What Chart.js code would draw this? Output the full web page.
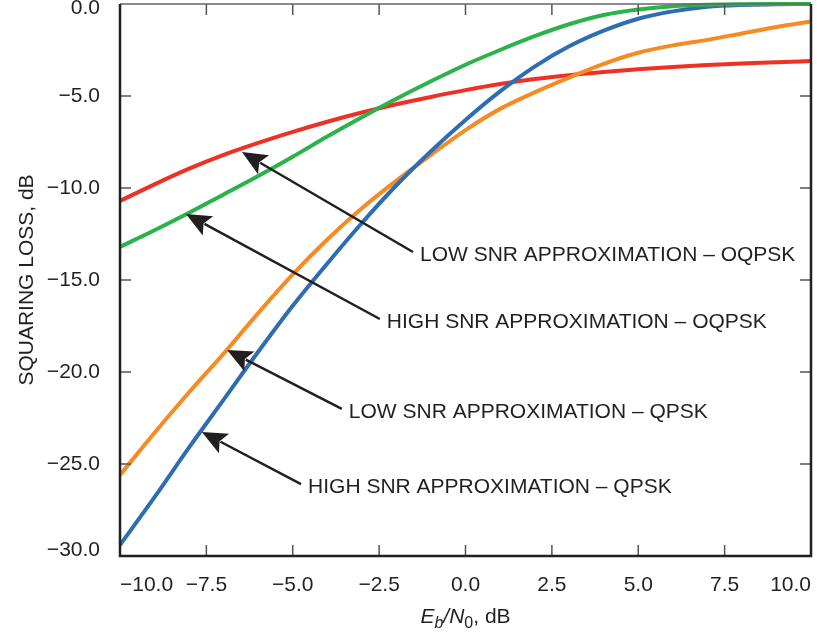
<!DOCTYPE html>
<html>
<head>
<meta charset="utf-8">
<script src="https://cdn.jsdelivr.net/npm/chart.js@4.4.0/dist/chart.umd.min.js"></script>
<style>
  html, body { margin: 0; padding: 0; background: #fff; }
  #wrap { width: 817px; height: 636px; }
</style>
</head>
<body>
<div id="wrap"><canvas id="chart" width="817" height="636"></canvas></div>
<script>
// Eb/N0 in dB
const ebn0 = [-10, -9, -8, -7, -6, -5, -4, -3, -2, -1, 0, 1, 2, 3, 4, 5, 6, 7, 8, 9, 10];

// squaring loss, dB
const highSnrOqpsk = [-13.2, -12.3, -11.35, -10.35, -9.35, -8.3, -7.2, -6.15, -5.15, -4.2, -3.3, -2.5, -1.75, -1.1, -0.6, -0.3, -0.12, -0.04, -0.01, 0, 0];
const highSnrQpsk  = [-29.4, -26.8, -24.1, -21.5, -18.9, -16.4, -14.1, -11.9, -9.85, -8.0, -6.3, -4.75, -3.4, -2.3, -1.45, -0.8, -0.4, -0.15, -0.05, -0.02, 0];
const lowSnrQpsk   = [-25.6, -23.3, -21.1, -19.0, -16.8, -14.7, -12.8, -11.1, -9.6, -8.2, -6.85, -5.7, -4.8, -4.0, -3.25, -2.65, -2.25, -1.95, -1.6, -1.25, -0.95];
const lowSnrOqpsk  = [-10.7, -9.8, -8.95, -8.2, -7.55, -6.95, -6.4, -5.9, -5.45, -5.05, -4.68, -4.35, -4.08, -3.87, -3.7, -3.55, -3.42, -3.32, -3.24, -3.16, -3.1];

// tick values
const xTickValues = [-10, -7.5, -5, -2.5, 0, 2.5, 5, 7.5, 10];
const yTickValues = [0, -5, -10, -15, -20, -25, -30];

// callouts: text, tip (x,y), tail (x,y) in data units
const noteTexts = [
  'LOW SNR APPROXIMATION \u2013 OQPSK',
  'HIGH SNR APPROXIMATION \u2013 OQPSK',
  'LOW SNR APPROXIMATION \u2013 QPSK',
  'HIGH SNR APPROXIMATION \u2013 QPSK'
];
const noteTips  = [[-6.47, -8.05], [-8.09, -11.41], [-6.90, -18.80], [-7.63, -23.26]];
const noteTails = [[-1.52, -13.48], [-2.48, -17.12], [-3.58, -22.01], [-4.76, -26.09]];

const FONT = "'Liberation Sans', Arial, Helvetica, sans-serif";
const INK = '#231f20';
Chart.defaults.font.family = FONT;
Chart.defaults.color = INK;

const fmt = v => (v < 0 ? '\u2212' : '') + Math.abs(v).toFixed(1);
const pts = ys => ebn0.map((x, i) => ({ x, y: ys[i] }));

// frame, inward ticks, callout arrows and the x-axis title
const decorations = {
  id: 'decorations',
  afterDraw(chart) {
    const { ctx, chartArea: a, scales: { x, y } } = chart;
    ctx.save();

    // inward ticks
    ctx.strokeStyle = '#555';
    ctx.lineWidth = 1.5;
    ctx.beginPath();
    x.ticks.forEach(t => {
      const px = x.getPixelForValue(t.value);
      if (px <= a.left + 2 || px >= a.right - 2) return;
      ctx.moveTo(px, a.bottom); ctx.lineTo(px, a.bottom - 11);
      ctx.moveTo(px, a.top);    ctx.lineTo(px, a.top + 11);
    });
    y.ticks.forEach(t => {
      const py = y.getPixelForValue(t.value);
      if (py <= a.top + 2 || py >= a.bottom - 2) return;
      ctx.moveTo(a.left, py);  ctx.lineTo(a.left + 11, py);
      ctx.moveTo(a.right, py); ctx.lineTo(a.right - 11, py);
    });
    ctx.stroke();

    // frame
    ctx.strokeStyle = '#666';
    ctx.lineWidth = 1.5;
    ctx.beginPath();
    ctx.moveTo(a.left, a.top); ctx.lineTo(a.right, a.top);
    ctx.stroke();
    ctx.strokeStyle = INK;
    ctx.lineWidth = 2.5;
    ctx.beginPath();
    ctx.moveTo(a.left, a.top); ctx.lineTo(a.left, a.bottom);
    ctx.lineTo(a.right, a.bottom); ctx.lineTo(a.right, a.top);
    ctx.stroke();

    // arrows + labels
    ctx.fillStyle = INK;
    ctx.strokeStyle = INK;
    ctx.font = '21px ' + FONT;
    ctx.textBaseline = 'middle';
    ctx.textAlign = 'left';
    noteTexts.forEach((txt, i) => {
      const tx = x.getPixelForValue(noteTips[i][0]), ty = y.getPixelForValue(noteTips[i][1]);
      const sx = x.getPixelForValue(noteTails[i][0]), sy = y.getPixelForValue(noteTails[i][1]);
      const len = Math.hypot(tx - sx, ty - sy);
      const ux = (tx - sx) / len, uy = (ty - sy) / len;
      const bx = tx - ux * 25, by = ty - uy * 25;
      ctx.lineWidth = 2.5;
      ctx.beginPath();
      ctx.moveTo(sx, sy); ctx.lineTo(bx + ux * 4, by + uy * 4);
      ctx.stroke();
      ctx.beginPath();
      ctx.moveTo(tx, ty);
      ctx.lineTo(bx - uy * 11, by + ux * 11);
      ctx.lineTo(bx + ux * 5, by + uy * 5);
      ctx.lineTo(bx + uy * 11, by - ux * 11);
      ctx.closePath();
      ctx.fill();
      ctx.fillText(txt, sx + 7, sy + 3);
    });

    // x-axis title: Eb/N0, dB
    const parts = [
      { t: 'E', f: 'italic 21px ' + FONT, dy: 0 },
      { t: 'b', f: 'italic 16px ' + FONT, dy: 5 },
      { t: '/', f: 'italic 21px ' + FONT, dy: 0 },
      { t: 'N', f: 'italic 21px ' + FONT, dy: 0 },
      { t: '0', f: '16px ' + FONT, dy: 5 },
      { t: ', dB', f: '21px ' + FONT, dy: 0 }
    ];
    ctx.textBaseline = 'alphabetic';
    let total = 0;
    parts.forEach(p => { ctx.font = p.f; p.w = ctx.measureText(p.t).width; total += p.w; });
    let cx = (a.left + a.right) / 2 - total / 2;
    parts.forEach(p => {
      ctx.font = p.f;
      ctx.fillText(p.t, cx, 623 + p.dy);
      cx += p.w;
    });
    ctx.restore();
  }
};

const line = (label, ys, color) => ({
  label, data: pts(ys), borderColor: color, backgroundColor: color,
  borderWidth: 4, pointRadius: 0, cubicInterpolationMode: 'monotone', clip: false
});

new Chart(document.getElementById('chart'), {
  type: 'line',
  data: {
    datasets: [
      line('High SNR approximation – OQPSK', highSnrOqpsk, '#2ab24b'),
      line('High SNR approximation – QPSK', highSnrQpsk, '#2e6db4'),
      line('Low SNR approximation – QPSK', lowSnrQpsk, '#f68b22'),
      line('Low SNR approximation – OQPSK', lowSnrOqpsk, '#ee3124')
    ]
  },
  options: {
    responsive: false,
    animation: false,
    layout: { padding: { top: 4, right: 6, left: 0, bottom: 0 } },
    plugins: { legend: { display: false }, tooltip: { enabled: false } },
    scales: {
      x: {
        type: 'linear',
        min: -10, max: 10,
        grid: { display: false },
        border: { display: false },
        afterBuildTicks: s => { s.ticks = xTickValues.map(v => ({ value: v })); },
        afterFit: s => { s.height = 80; s.paddingLeft = 0; s.paddingRight = 0; },
        ticks: {
          align: 'inner', padding: 9, maxRotation: 0, autoSkip: false,
          font: { size: 21 }, color: INK,
          callback: v => fmt(v)
        }
      },
      y: {
        type: 'linear',
        min: -30, max: 0,
        grid: { display: false },
        border: { display: false },
        afterBuildTicks: s => { s.ticks = yTickValues.map(v => ({ value: v })); },
        afterFit: s => { s.width = 120; s.paddingTop = 0; s.paddingBottom = 0; },
        title: {
          display: true, text: 'SQUARING LOSS, dB', color: INK,
          font: { size: 21 }, padding: { top: 15, bottom: 0 }
        },
        ticks: {
          padding: 12, autoSkip: false, color: INK,
          callback: v => {
            if (v === 0) return ['', fmt(v)];
            if (v === -30) return [fmt(v), ''];
            return fmt(v);
          },
          font: c => {
            const v = c.tick ? c.tick.value : null;
            if (v === 0) return { size: 21, lineHeight: '8px' };
            if (v === -30) return { size: 21, lineHeight: '11px' };
            return { size: 21 };
          }
        }
      }
    }
  },
  plugins: [decorations]
});
</script>
</body>
</html>
